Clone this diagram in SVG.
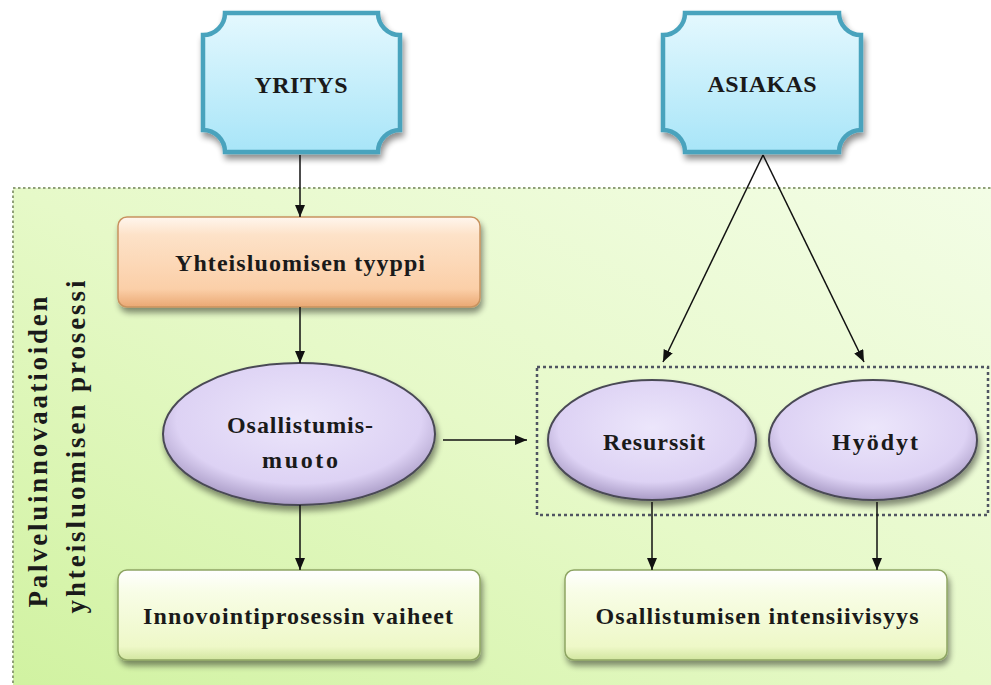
<svg xmlns="http://www.w3.org/2000/svg" width="991" height="685" viewBox="0 0 991 685">
<defs>
<style>
.t{font-family:"Liberation Serif","Times New Roman",serif;font-weight:bold;font-size:24px;fill:#1a1a1a;text-anchor:middle}
.vt{font-size:27px}
.plq{fill:url(#gCyan);stroke:#4aa3bd;stroke-width:4.5}
.oval{fill:url(#gLav);stroke:#4a4a55;stroke-width:2}
.gbox{fill:url(#gYel);stroke:#8ea563;stroke-width:1.5}
.con{stroke:#111;stroke-width:1.5;fill:none;marker-end:url(#ah)}
</style>
<linearGradient id="gBg" x1="1" y1="0" x2="0" y2="1">
<stop offset="0" stop-color="#f3fde6"/>
<stop offset="0.5" stop-color="#e6f9c8"/>
<stop offset="1" stop-color="#d0f2a0"/>
</linearGradient>
<linearGradient id="gCyan" x1="0" y1="0" x2="0" y2="1">
<stop offset="0" stop-color="#e4f8fe"/>
<stop offset="1" stop-color="#a8e5f8"/>
</linearGradient>
<linearGradient id="gPeach" x1="0" y1="0" x2="0" y2="1">
<stop offset="0" stop-color="#fff6ee"/>
<stop offset="0.2" stop-color="#fde2c8"/>
<stop offset="0.8" stop-color="#fbcfa8"/>
<stop offset="1" stop-color="#eaa873"/>
</linearGradient>
<radialGradient id="gLav" cx="0.5" cy="0.4" r="0.6">
<stop offset="0" stop-color="#ece6fb"/>
<stop offset="0.75" stop-color="#ddd2f4"/>
<stop offset="1" stop-color="#a99bc6"/>
</radialGradient>
<linearGradient id="gYel" x1="0" y1="0" x2="0" y2="1">
<stop offset="0" stop-color="#ffffff"/>
<stop offset="0.25" stop-color="#f8fde6"/>
<stop offset="0.85" stop-color="#eef8c8"/>
<stop offset="1" stop-color="#d2e6a0"/>
</linearGradient>
<filter id="sh" x="-10%" y="-10%" width="130%" height="140%">
<feGaussianBlur in="SourceAlpha" stdDeviation="3"/>
<feOffset dx="2" dy="5" result="b"/>
<feComponentTransfer><feFuncA type="linear" slope="0.45"/></feComponentTransfer>
<feMerge><feMergeNode/><feMergeNode in="SourceGraphic"/></feMerge>
</filter>
<marker id="ah" viewBox="0 0 12 10" refX="12" refY="5" markerWidth="12" markerHeight="10" markerUnits="userSpaceOnUse" orient="auto">
<path d="M0,0 L12,5 L0,10 Z" fill="#111"/>
</marker>
</defs>

<rect width="991" height="685" fill="#ffffff"/>

<g id="container">
<rect x="13" y="188" width="990" height="510" fill="url(#gBg)" stroke="#8f9f78" stroke-width="2" stroke-dasharray="2.5 2.5"/>
<text class="t vt" transform="translate(47,452) rotate(-90)" textLength="311" lengthAdjust="spacing">Palveluinnovaatioiden</text>
<text class="t vt" transform="translate(85,447) rotate(-90)" textLength="333" lengthAdjust="spacing">yhteisluomisen prosessi</text>
</g>

<g id="group-box">
<rect x="537" y="367" width="451" height="148" fill="none" stroke="#505562" stroke-width="2.5" stroke-dasharray="3 3"/>
</g>

<g id="yritys">
<path class="plq" filter="url(#sh)" d="M225,13 H378 A22,22 0 0 0 400,35 V130 A22,22 0 0 0 378,152 H225 A22,22 0 0 0 203,130 V35 A22,22 0 0 0 225,13 Z"/>
<text class="t" x="301" y="93" textLength="93" lengthAdjust="spacing">YRITYS</text>
</g>

<g id="asiakas">
<path class="plq" filter="url(#sh)" d="M685,13 H839 A22,22 0 0 0 861,35 V130 A22,22 0 0 0 839,152 H685 A22,22 0 0 0 663,130 V35 A22,22 0 0 0 685,13 Z"/>
<text class="t" x="762" y="92" textLength="109" lengthAdjust="spacing">ASIAKAS</text>
</g>

<g id="tyyppi">
<rect x="118" y="217" width="362" height="90" rx="9" fill="url(#gPeach)" stroke="#c8935f" stroke-width="1.5" filter="url(#sh)"/>
<text class="t" x="300" y="271" textLength="250" lengthAdjust="spacing">Yhteisluomisen tyyppi</text>
</g>

<g id="muoto">
<ellipse class="oval" cx="299" cy="434" rx="136" ry="71" filter="url(#sh)"/>
<text class="t" x="300" y="433" textLength="146" lengthAdjust="spacing">Osallistumis-</text>
<text class="t" x="300" y="468" textLength="76" lengthAdjust="spacing">muoto</text>
</g>

<g id="resurssit">
<ellipse class="oval" cx="652" cy="440" rx="104" ry="60" filter="url(#sh)"/>
<text class="t" x="654" y="450" textLength="102" lengthAdjust="spacing">Resurssit</text>
</g>

<g id="hyodyt">
<ellipse class="oval" cx="873" cy="440" rx="104" ry="60" filter="url(#sh)"/>
<text class="t" x="875" y="450" textLength="86" lengthAdjust="spacing">Hyödyt</text>
</g>

<g id="vaiheet">
<rect x="118" y="570" width="362" height="90" rx="9" class="gbox" filter="url(#sh)"/>
<text class="t" x="298" y="624" textLength="310" lengthAdjust="spacing">Innovointiprosessin vaiheet</text>
</g>

<g id="intensiivisyys">
<rect x="565" y="570" width="382" height="90" rx="9" class="gbox" filter="url(#sh)"/>
<text class="t" x="757" y="624" textLength="323" lengthAdjust="spacing">Osallistumisen intensiivisyys</text>
</g>

<g id="connectors">
<line class="con" x1="300" y1="155" x2="300" y2="217"/>
<line class="con" x1="300" y1="307" x2="300" y2="363"/>
<line class="con" x1="300" y1="505" x2="300" y2="570"/>
<line class="con" x1="443" y1="440" x2="527" y2="440"/>
<line class="con" x1="763" y1="155" x2="663" y2="362"/>
<line class="con" x1="763" y1="155" x2="864" y2="362"/>
<line class="con" x1="652" y1="502" x2="652" y2="570"/>
<line class="con" x1="877" y1="502" x2="877" y2="570"/>
</g>
</svg>
